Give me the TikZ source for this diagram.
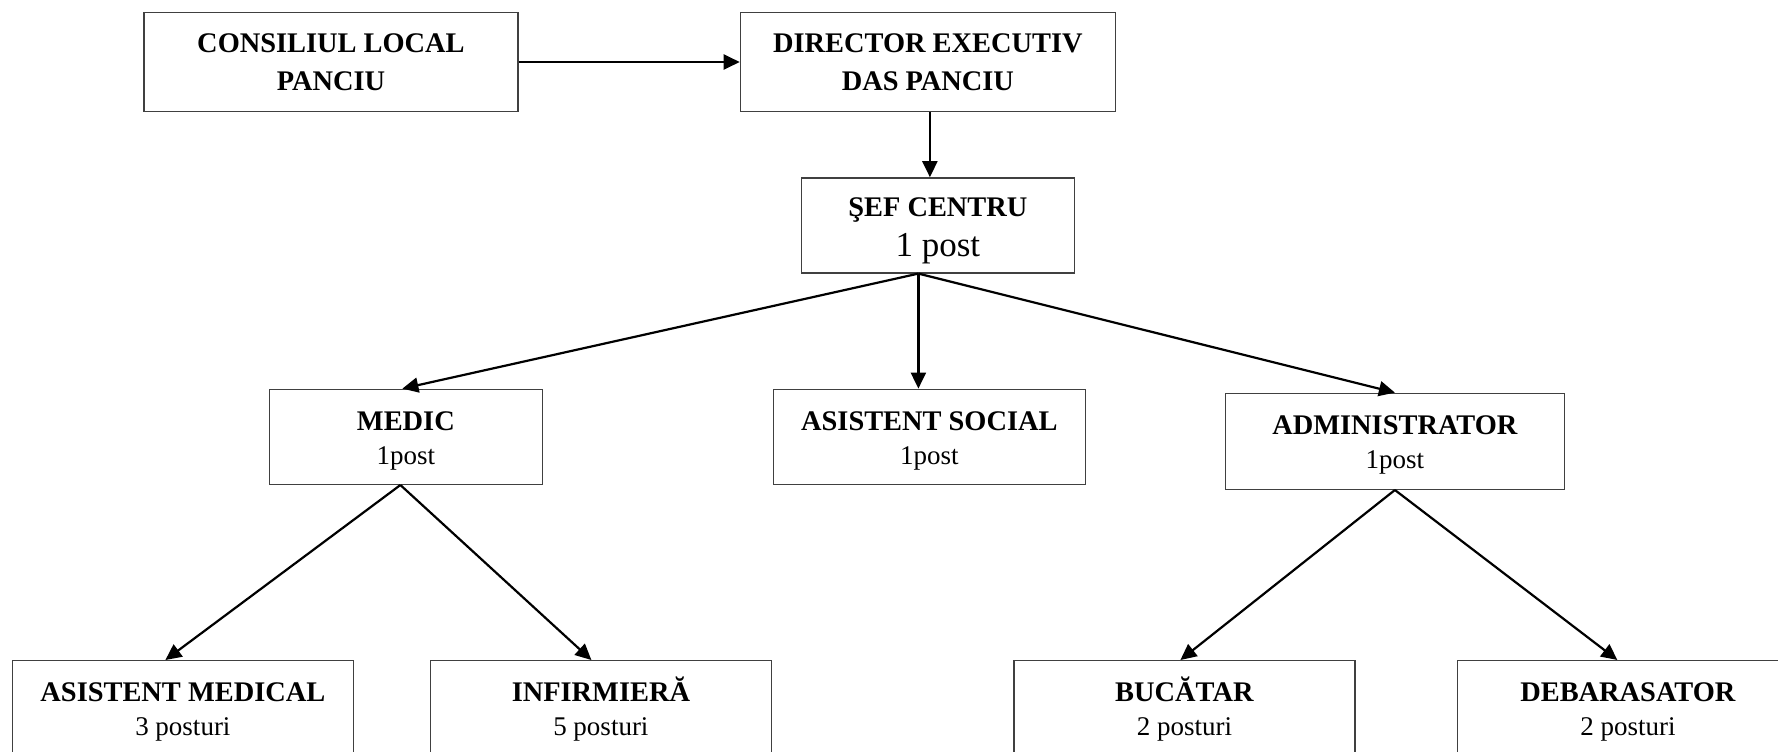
\documentclass[tikz,border=0pt]{standalone}
\usepackage{fontspec}
\setmainfont{Liberation Serif}
\usetikzlibrary{positioning}
\usetikzlibrary{arrows.meta}
\newcommand{\postsmall}{\fontsize{13.5}{16}\selectfont\mdseries}
\newcommand{\postbig}{\fontsize{17.5}{19}\selectfont\mdseries}
\newcommand{\pad}[1][13.5pt]{\rule{0pt}{#1}}
\tikzset{%
  arr/.style = {-{Triangle[length=8pt,width=7.5pt]},line width=1.1pt},
  box/.style = {rectangle,draw=black!75,line width=0.7pt,solid,
        align=center,inner sep=2pt,minimum width=170.5pt,
        minimum height=47.5pt,font=\fontsize{14.2}{16}\selectfont\bfseries}
}

\begin{document}
\begin{tikzpicture}[x=0.5pt,y=0.5pt]
   \path[use as bounding box] (-331,62) rectangle (1447,-689);
   \clip (-331,62) rectangle (1447,-689);

   \node[box,minimum width=187pt,minimum height=49.5pt] (cl) at (0,0)
        {CONSILIUL LOCAL\\[3pt]PANCIU};
   \node[box,minimum width=187.5pt,minimum height=49.5pt] (dir)
        [right=110.5pt of cl] {DIRECTOR EXECUTIV\\[3pt]DAS PANCIU};
   \node[box,minimum width=136.5pt] (sef) [below=32.5pt of dir,xshift=5pt]
        {\pad[15pt]ŞEF CENTRU\\[4pt]{\postbig 1 post}};

   \node[box,minimum width=136.5pt] (medic) [below=57.5pt of sef,xshift=-266pt]
        {\pad MEDIC\\[1pt]{\postsmall 1post}};
   \node[box,minimum width=156pt] (asoc) [below=57.5pt of sef,xshift=-4.25pt]
        {\pad ASISTENT SOCIAL\\[1pt]{\postsmall 1post}};
   \node[box,minimum width=169.5pt,minimum height=48pt] (admin)
        [below=59.5pt of sef,xshift=228.5pt]
        {\pad ADMINISTRATOR\\[1pt]{\postsmall 1post}};

   \node[box] (am) [below=87.5pt of medic,xshift=-111.5pt]
        {\pad ASISTENT MEDICAL\\[1pt]{\postsmall 3 posturi}};
   \node[box] (inf) [below=87.5pt of medic,xshift=97.5pt]
        {\pad INFIRMIERĂ\\[1pt]{\postsmall 5 posturi}};
   \node[box] (buc) [below=85pt of admin,xshift=-105.25pt]
        {\pad BUCĂTAR\\[1pt]{\postsmall 2 posturi}};
   \node[box] (deb) [below=85pt of admin,xshift=116.5pt]
        {\pad DEBARASATOR\\[1pt]{\postsmall 2 posturi}};

   \draw[arr] (cl) -- (dir);
   \draw[arr] ([xshift=1pt]dir.south) -- ([xshift=1pt]dir.south |- sef.north);

   \draw[arr] ([xshift=-9.75pt]sef.south) -- ([xshift=-1.75pt]medic.north);
   \draw[arr] ([xshift=-9.75pt]sef.south) -- ([xshift=-9.75pt]sef.south |- asoc.north);
   \draw[arr] ([xshift=-9.75pt]sef.south) -- (admin.north);

   \draw[arr] ([xshift=-2.75pt]medic.south) -- ([xshift=-8.75pt]am.north);
   \draw[arr] ([xshift=-2.75pt]medic.south) -- ([xshift=-4.75pt]inf.north);
   \draw[arr] (admin.south) -- ([xshift=-2pt]buc.north);
   \draw[arr] (admin.south) -- ([xshift=-5.25pt]deb.north);
\end{tikzpicture}
\end{document}
